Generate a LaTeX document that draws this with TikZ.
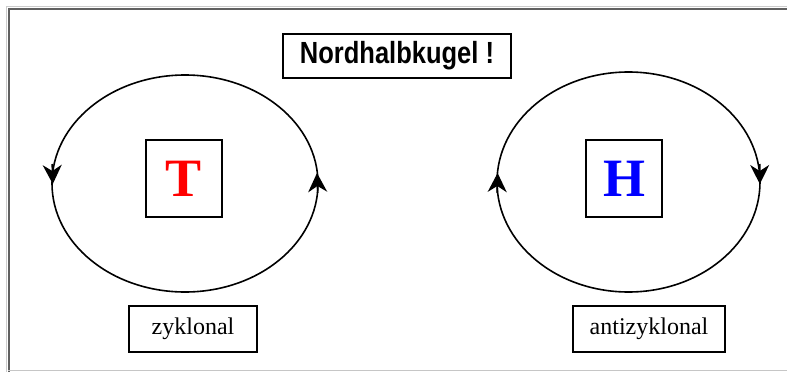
\documentclass[tikz,border=0pt]{standalone}
\usepackage{fontspec}
\setmainfont{Liberation Serif}
\newfontfamily\titlefont{Liberation Sans}
\usetikzlibrary{arrows.meta}
\tikzset{
  box/.style={draw=black, line width=1.8pt, inner sep=0pt, fill=white},
  orbit/.style={draw=black, line width=1.6pt},
  tip/.style={line width=1.6pt, -{Stealth[length=19pt,width=19pt,inset=6pt]}},
}
\begin{document}
\begin{tikzpicture}[x=1pt,y=-1pt]
\useasboundingbox (0,0) rectangle (787,372);
% frame
\draw[gray!40, line width=1pt] (6,372) -- (6,6) -- (787,6);
\draw[gray!75!black, line width=2pt] (8.5,372) -- (8.5,8.5) -- (787,8.5);
\draw[gray!45, line width=1.5pt] (8,370.5) -- (787,370.5);
% orbits
\draw[orbit] (185,183.5) ellipse [x radius=133pt, y radius=108.5pt];
\draw[orbit] (628.5,182) ellipse [x radius=131.5pt, y radius=110pt];
% arrow tips
\coordinate (a1s) at (52.2,164);  \coordinate (a1e) at (52.8,184);
\coordinate (a2s) at (317.7,193); \coordinate (a2e) at (317,173);
\coordinate (a3s) at (497.2,193); \coordinate (a3e) at (497.6,173);
\coordinate (a4s) at (759.7,164); \coordinate (a4e) at (759.8,184);
\draw[tip] (a1s) -- (a1e);
\draw[tip] (a2s) -- (a2e);
\draw[tip] (a3s) -- (a3e);
\draw[tip] (a4s) -- (a4e);
% labels
\node[box, minimum width=76pt, minimum height=77pt] (T) at (184,178.5)
  {\fontsize{54pt}{54pt}\selectfont\bfseries\color{red}T};
\node[box, minimum width=76pt, minimum height=77pt] (H) at (624,178.5)
  {\fontsize{54pt}{54pt}\selectfont\bfseries\color{blue}H};
\node[box, minimum width=228pt, minimum height=44pt] (title) at (397,56)
  {\scalebox{1}[1.2]{\titlefont\fontsize{25.5pt}{26pt}\selectfont\bfseries Nordhalbkugel !}};
\node[box, minimum width=128pt, minimum height=46pt] (zyk) at (193,329)
  {\fontsize{24pt}{24pt}\selectfont zyklonal};
\node[box, minimum width=152pt, minimum height=46pt] (anti) at (649,329)
  {\fontsize{24pt}{24pt}\selectfont antizyklonal};
\end{tikzpicture}
\end{document}
